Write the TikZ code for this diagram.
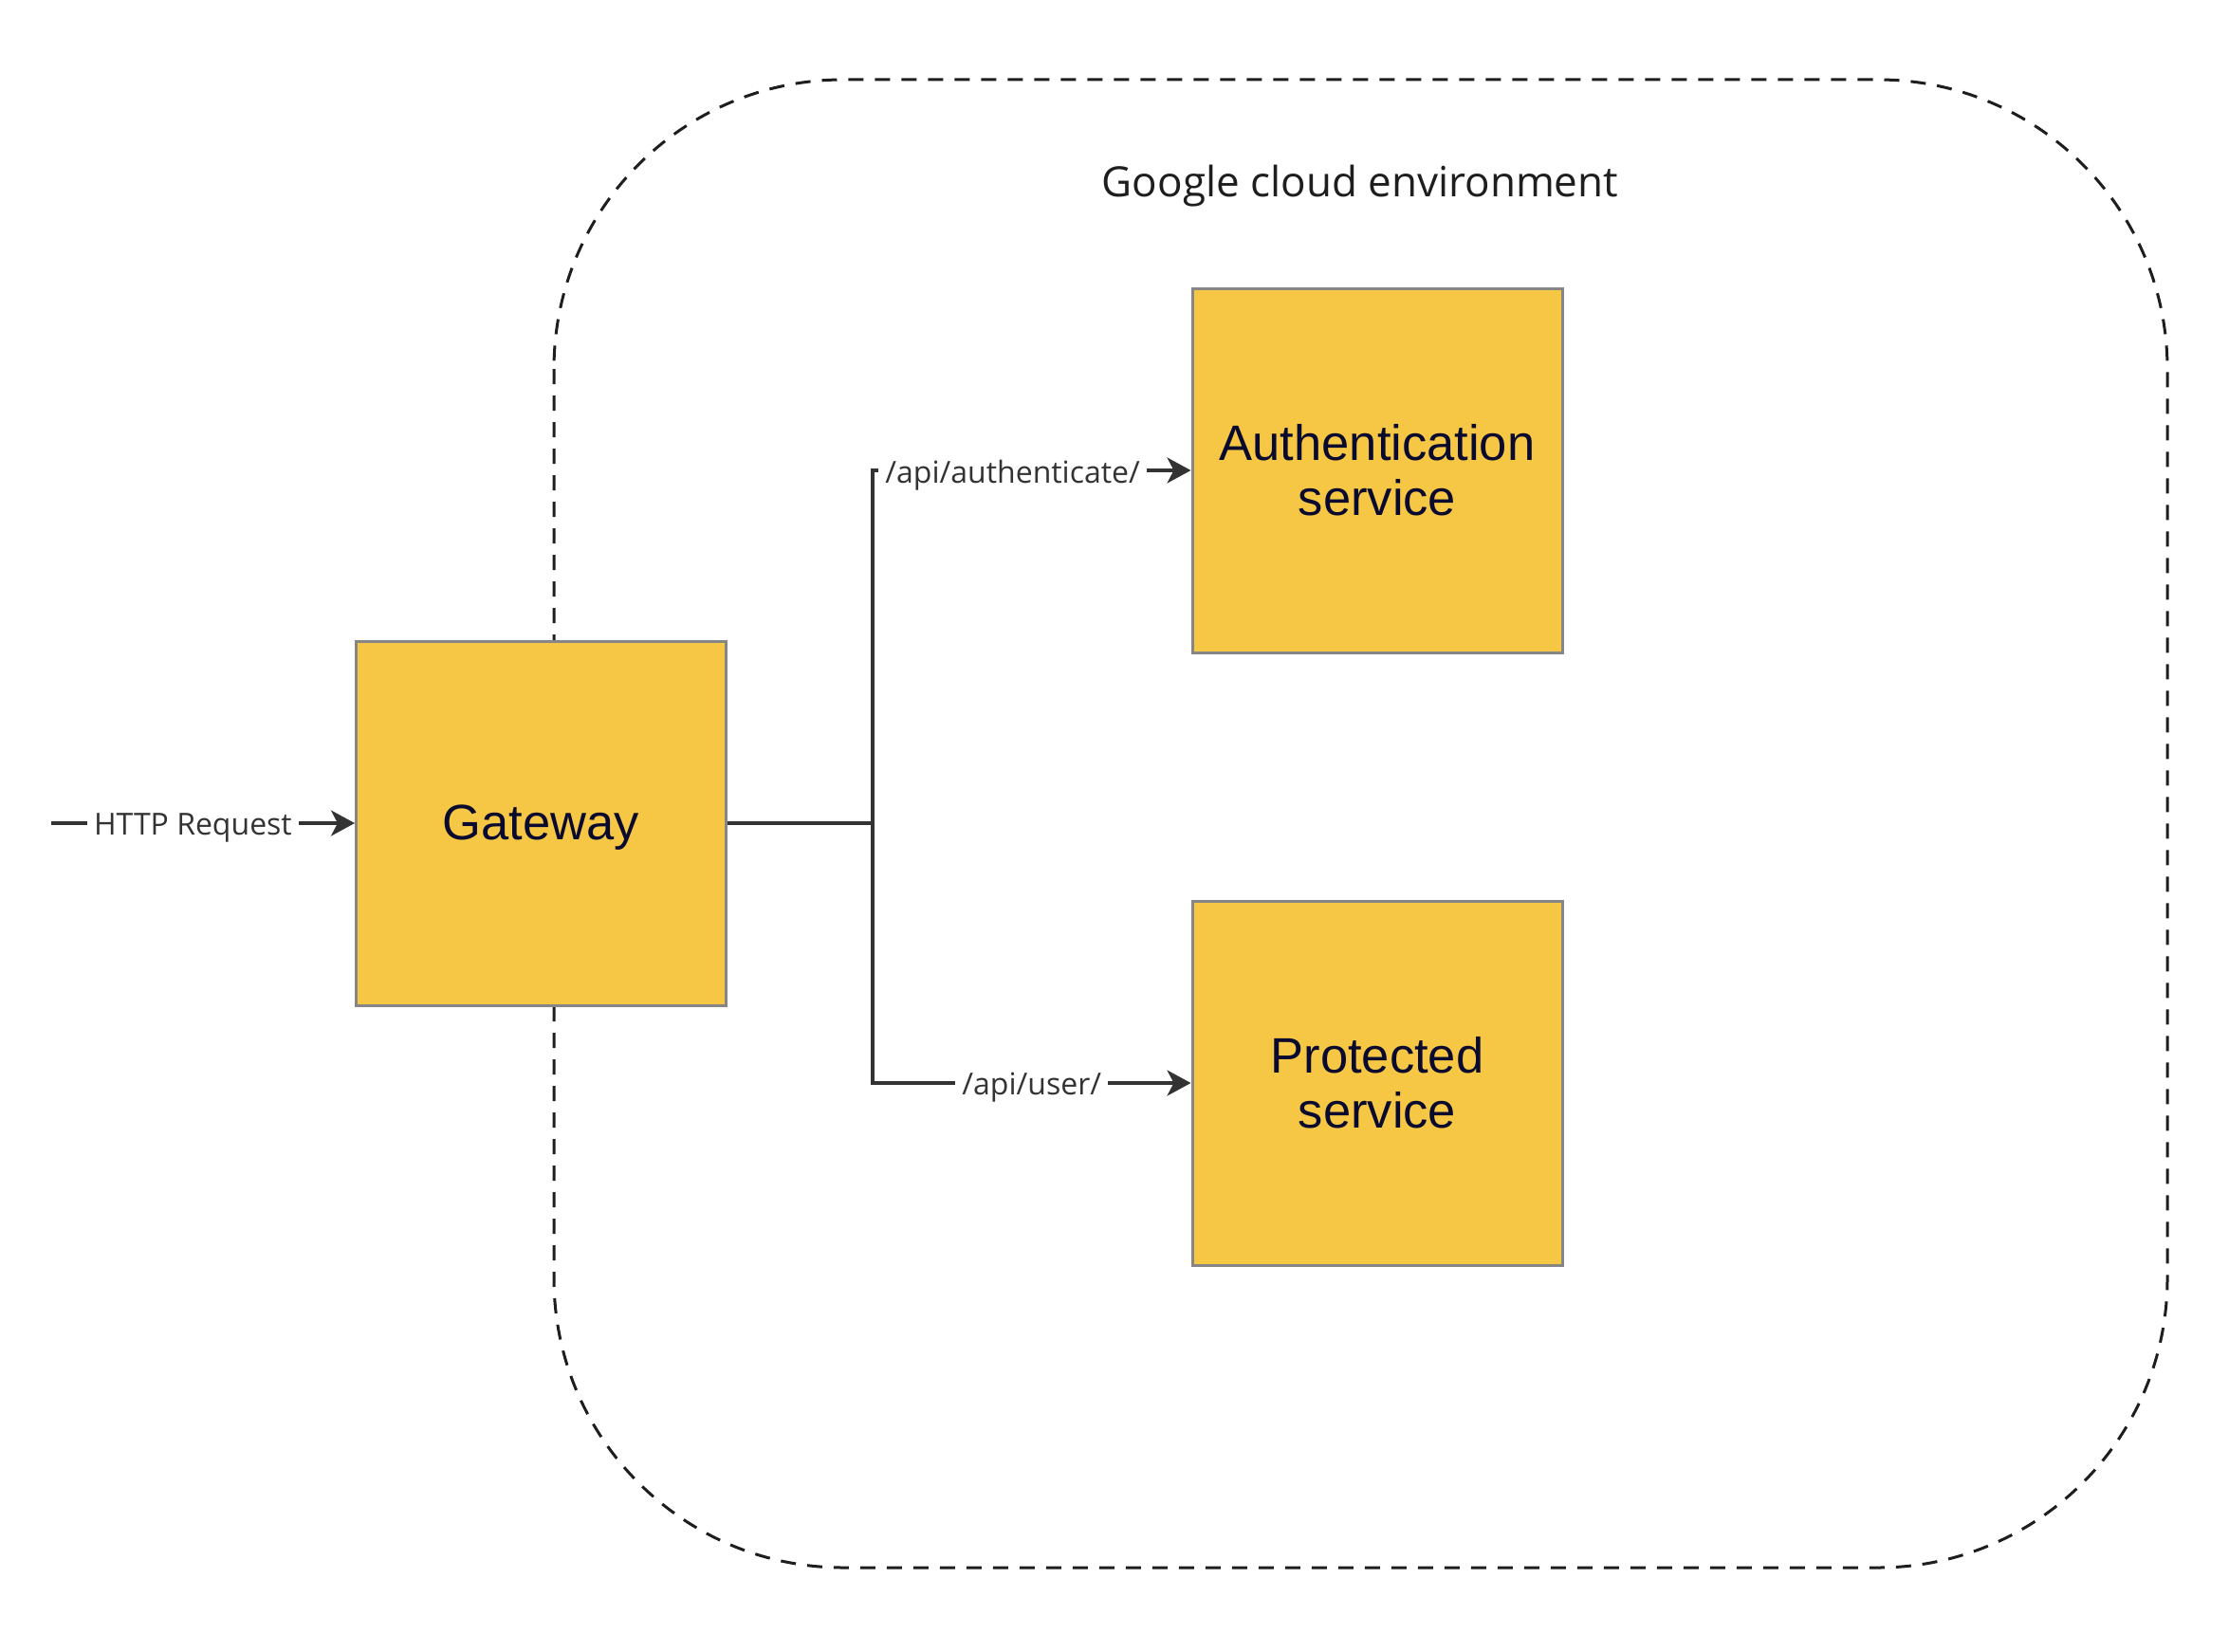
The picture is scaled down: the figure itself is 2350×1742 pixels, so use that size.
\documentclass[tikz,border=0pt]{standalone}
\usepackage{fontspec}
\usetikzlibrary{arrows.meta}
\newfontfamily\lblfont{Open Sans}
\newfontfamily\boxfont{Liberation Sans}
\definecolor{boxfill}{HTML}{F6C645}
\definecolor{boxline}{HTML}{868686}
\definecolor{boxtext}{HTML}{0A0A2E}
\definecolor{conncol}{HTML}{333333}
\definecolor{envcol}{HTML}{1E1E1E}
\tikzset{
  svcbox/.style={draw=boxline, line width=3pt, fill=boxfill, minimum width=390pt, minimum height=384pt, inner sep=0pt, align=center, text=boxtext, font=\boxfont\fontsize{52.5}{58}\selectfont},
  conn/.style={draw=conncol, line width=3.5pt},
  arr/.style={conn, -{Stealth[length=25pt, width=27pt, inset=7pt]}},
  lbl/.style={fill=white, text=conncol, inner xsep=7pt, inner ysep=4pt, yshift=-5pt, font=\lblfont\fontsize{32}{38}\selectfont},
  envbox/.style={draw=envcol, line width=3pt, dash pattern=on 16pt off 12pt, rounded corners=305pt}
}
\begin{document}
\begin{tikzpicture}[x=1pt, y=-1pt]
  \path[use as bounding box, fill=white] (0,0) rectangle (2350,1742);
  % environment
  \draw[envbox] (584,84) rectangle (2285,1653);
  \node[text=envcol, font=\lblfont\fontsize{44}{52}\selectfont] (envlabel) at (1434,196) {Google cloud environment};
  % boxes
  \node[svcbox] (gw) at (570.5,868) {\raisebox{-5pt}[\height][\depth]{Gateway}};
  \node[svcbox] (auth) at (1452,496) {Authentication\\service};
  \node[svcbox] (prot) at (1452,1142) {Protected\\service};
  % connectors
  \coordinate (src) at (54,868);
  \coordinate (br) at (920,868);
  \draw[arr] (src) -- node[lbl, pos=0.467] {HTTP Request} (gw.west);
  \draw[conn] (gw.east) -- (br);
  \draw[arr] (br) |- node[lbl, pos=0.72] {/api/authenticate/} (auth.west);
  \draw[arr] (br) |- node[lbl, pos=0.75] {/api/user/} (prot.west);
\end{tikzpicture}
\end{document}
